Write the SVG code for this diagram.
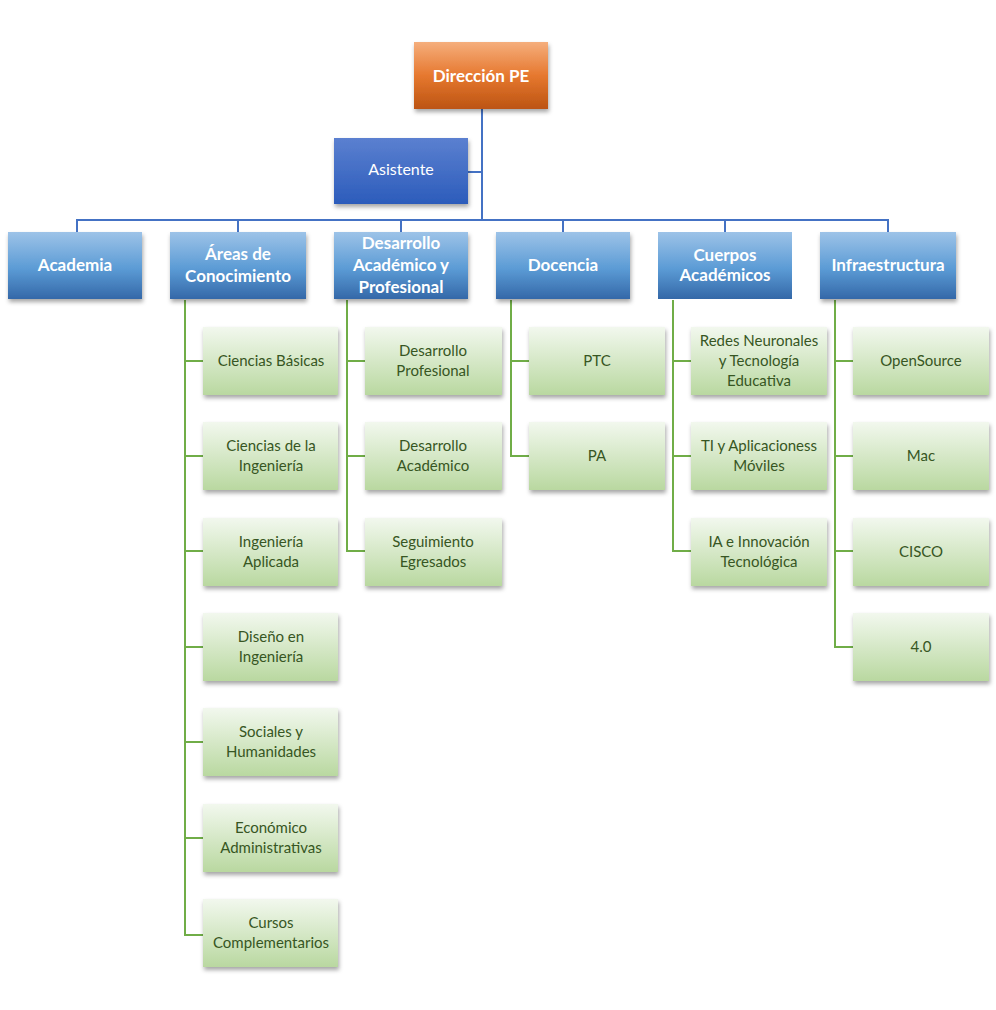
<svg xmlns="http://www.w3.org/2000/svg" width="996" height="1010" viewBox="0 0 996 1010">
<defs>
<linearGradient id="gb" x1="0" y1="0" x2="0" y2="1"><stop offset="0" stop-color="#9dc3e8"/><stop offset="0.55" stop-color="#5b9bd5"/><stop offset="1" stop-color="#3468a8"/></linearGradient>
<linearGradient id="go" x1="0" y1="0" x2="0" y2="1"><stop offset="0" stop-color="#f5ae7c"/><stop offset="0.5" stop-color="#e6782f"/><stop offset="1" stop-color="#bc5412"/></linearGradient>
<linearGradient id="ga" x1="0" y1="0" x2="0" y2="1"><stop offset="0" stop-color="#5b80d0"/><stop offset="1" stop-color="#2c5cbb"/></linearGradient>
<linearGradient id="gg" x1="0" y1="0" x2="0" y2="1"><stop offset="0" stop-color="#f2f8ee"/><stop offset="1" stop-color="#b9d8a0"/></linearGradient>
<filter id="sh" x="-10%" y="-10%" width="130%" height="140%"><feDropShadow dx="1" dy="3" stdDeviation="2" flood-color="#000" flood-opacity="0.35"/></filter>
</defs>
<style>
.b{fill:url(#gb);filter:url(#sh)}
.g{fill:url(#gg);filter:url(#sh)}
.tw{font-family:Lato,"Open Sans",sans-serif;font-weight:bold;fill:#fff;text-anchor:middle;font-size:17px}
.tg{font-family:Lato,"Open Sans",sans-serif;fill:#375623;text-anchor:middle;font-size:15px}
.cb{stroke:#4472c4;stroke-width:2;fill:none}
.cg{stroke:#70ad47;stroke-width:2;fill:none}
</style>
<g id="connectors">
<path class="cb" d="M482 109V220M468 172H482M77 232V220H888V232M238 220V232M401 220V232M563 220V232M725 220V232"/>
<path class="cg" d="M185 300V935H203M185 361H203M185 456H203M185 551H203M185 647H203M185 742H203M185 838H203"/>
<path class="cg" d="M347 300V551H365M347 361H365M347 456H365"/>
<path class="cg" d="M511 300V456H529M511 361H529"/>
<path class="cg" d="M673 300V551H691M673 361H691M673 456H691"/>
<path class="cg" d="M835 300V647H853M835 361H853M835 456H853M835 551H853"/>
</g>
<g id="direccion"><rect x="414" y="42" width="134" height="67" fill="url(#go)" filter="url(#sh)"/><text class="tw" x="481" y="82" font-size="20">Dirección PE</text></g>
<g id="asistente"><rect x="334" y="138" width="134" height="66" fill="url(#ga)" filter="url(#sh)"/><text class="tw" x="401" y="175" style="font-weight:normal;font-size:16px">Asistente</text></g>
<g id="academia"><rect class="b" x="8" y="232" width="134" height="67"/><text class="tw" x="75" y="271">Academia</text></g>
<g id="areas"><rect class="b" x="170" y="232" width="136" height="67"/><text class="tw" x="238" y="260">Áreas de</text><text class="tw" x="238" y="282">Conocimiento</text></g>
<g id="desarrollo"><rect class="b" x="334" y="232" width="134" height="67"/><text class="tw" x="401" y="249">Desarrollo</text><text class="tw" x="401" y="271">Académico y</text><text class="tw" x="401" y="293">Profesional</text></g>
<g id="docencia"><rect class="b" x="496" y="232" width="134" height="67"/><text class="tw" x="563" y="271">Docencia</text></g>
<g id="cuerpos"><rect x="658" y="232" width="134" height="67" fill="url(#gb)"/><text class="tw" x="725" y="261" font-size="15">Cuerpos</text><text class="tw" x="725" y="281" font-size="15">Académicos</text></g>
<g id="infra"><rect class="b" x="820" y="232" width="136" height="67"/><text class="tw" x="888" y="271">Infraestructura</text></g>
<g id="cb1"><rect class="g" x="203" y="327" width="135" height="68"/><text class="tg" x="271" y="366">Ciencias Básicas</text></g>
<g id="ci"><rect class="g" x="203" y="422" width="135" height="68"/><text class="tg" x="271" y="451">Ciencias de la</text><text class="tg" x="271" y="471">Ingeniería</text></g>
<g id="ia"><rect class="g" x="203" y="518" width="135" height="68"/><text class="tg" x="271" y="547">Ingeniería</text><text class="tg" x="271" y="567">Aplicada</text></g>
<g id="di"><rect class="g" x="203" y="613" width="135" height="68"/><text class="tg" x="271" y="642">Diseño en</text><text class="tg" x="271" y="662">Ingeniería</text></g>
<g id="sh1"><rect class="g" x="203" y="708" width="135" height="68"/><text class="tg" x="271" y="737">Sociales y</text><text class="tg" x="271" y="757">Humanidades</text></g>
<g id="ea"><rect class="g" x="203" y="804" width="135" height="68"/><text class="tg" x="271" y="833">Económico</text><text class="tg" x="271" y="853">Administrativas</text></g>
<g id="cc"><rect class="g" x="203" y="899" width="135" height="68"/><text class="tg" x="271" y="928">Cursos</text><text class="tg" x="271" y="948">Complementarios</text></g>
<g id="dp"><rect class="g" x="365" y="327" width="137" height="68"/><text class="tg" x="433" y="356">Desarrollo</text><text class="tg" x="433" y="376">Profesional</text></g>
<g id="da"><rect class="g" x="365" y="422" width="137" height="68"/><text class="tg" x="433" y="451">Desarrollo</text><text class="tg" x="433" y="471">Académico</text></g>
<g id="se"><rect class="g" x="365" y="518" width="137" height="68"/><text class="tg" x="433" y="547">Seguimiento</text><text class="tg" x="433" y="567">Egresados</text></g>
<g id="ptc"><rect class="g" x="529" y="327" width="136" height="68"/><text class="tg" x="597" y="366">PTC</text></g>
<g id="pa"><rect class="g" x="529" y="422" width="136" height="68"/><text class="tg" x="597" y="461">PA</text></g>
<g id="rn"><rect class="g" x="691" y="327" width="136" height="68"/><text class="tg" x="759" y="346">Redes Neuronales</text><text class="tg" x="759" y="366">y Tecnología</text><text class="tg" x="759" y="386">Educativa</text></g>
<g id="ti"><rect class="g" x="691" y="422" width="136" height="68"/><text class="tg" x="759" y="451">TI y Aplicacioness</text><text class="tg" x="759" y="471">Móviles</text></g>
<g id="iai"><rect class="g" x="691" y="518" width="136" height="68"/><text class="tg" x="759" y="547">IA e Innovación</text><text class="tg" x="759" y="567">Tecnológica</text></g>
<g id="os"><rect class="g" x="853" y="327" width="136" height="68"/><text class="tg" x="921" y="366">OpenSource</text></g>
<g id="mac"><rect class="g" x="853" y="422" width="136" height="68"/><text class="tg" x="921" y="461">Mac</text></g>
<g id="cisco"><rect class="g" x="853" y="518" width="136" height="68"/><text class="tg" x="921" y="557">CISCO</text></g>
<g id="i40"><rect class="g" x="853" y="613" width="136" height="68"/><text class="tg" x="921" y="652">4.0</text></g>
</svg>
